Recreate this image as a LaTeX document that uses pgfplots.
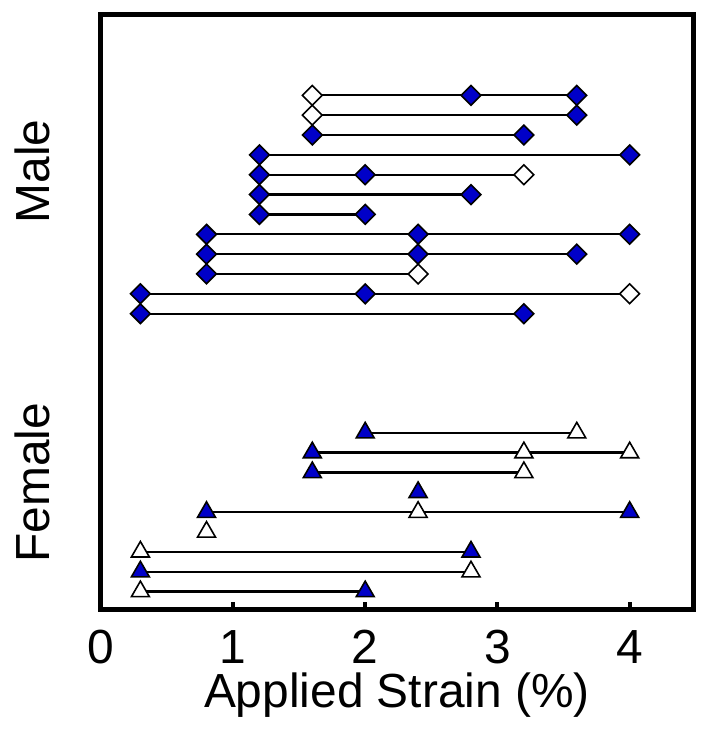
\documentclass[border=0pt]{standalone}
\usepackage{fontspec}
\setmainfont{Liberation Sans}
\usepackage{pgfplots}
\pgfplotsset{compat=1.18}
\definecolor{mblue}{RGB}{0,0,200}
\begin{document}
\fontsize{24}{28}\selectfont
\begin{tikzpicture}
\begin{axis}[
  scale only axis, width=297pt, height=298pt,
  xmin=0, xmax=4.48, ymin=0.1, ymax=30.05,
  axis line style={line width=2.5pt},
  xtick={0,1,2,3,4}, ytick=\empty,
  xtick pos=bottom, tick align=inside, major tick length=3.5pt,
  tick style={line width=2pt, black},
  tick label style={font=\fontsize{24}{28}\selectfont},
  /pgf/number format/assume math mode=true,
  xticklabel style={anchor=base, yshift=-27pt},
  xlabel={Applied Strain (\%)},
  xlabel style={at={(axis description cs:0.5,0)}, anchor=base, yshift=-49pt, font=\fontsize{24}{28}\selectfont},
  clip=false,
  unbounded coords=jump,
]
% invisible frame for proportions
\path ([xshift=-50.5pt,yshift=-61pt]rel axis cs:0,0) rectangle ([xshift=9.5pt,yshift=7.5pt]rel axis cs:1,1);
% connecting lines
\addplot[black, line width=1.1pt, no marks] coordinates {
 (1.6,26) (3.6,26) (nan,nan)
 (1.6,25) (3.6,25) (nan,nan)
 (1.6,24) (3.2,24) (nan,nan)
 (1.2,23) (4.0,23) (nan,nan)
 (1.2,22) (3.2,22) (nan,nan)
 (1.2,21) (2.8,21) (nan,nan)
 (1.2,20) (2.0,20) (nan,nan)
 (0.8,19) (4.0,19) (nan,nan)
 (0.8,18) (3.6,18) (nan,nan)
 (0.8,17) (2.4,17) (nan,nan)
 (0.3,16) (4.0,16) (nan,nan)
 (0.3,15) (3.2,15) (nan,nan)
 (2.0,9) (3.6,9) (nan,nan)
 (1.6,8) (4.0,8) (nan,nan)
 (1.6,7) (3.2,7) (nan,nan)
 (0.8,5) (4.0,5) (nan,nan)
 (0.3,3) (2.8,3) (nan,nan)
 (0.3,2) (2.8,2) (nan,nan)
 (0.3,1) (2.0,1)
};
% filled diamonds (male)
\addplot[only marks, mark=square*, mark size=3.5pt, mark options={rotate=45, fill=mblue, draw=black, line width=0.8pt}] coordinates {
 (2.8,26) (3.6,26) (3.6,25) (1.6,24) (3.2,24) (1.2,23) (4.0,23)
 (1.2,22) (2.0,22) (1.2,21) (2.8,21) (1.2,20) (2.0,20)
 (0.8,19) (2.4,19) (4.0,19) (0.8,18) (2.4,18) (3.6,18) (0.8,17)
 (0.3,16) (2.0,16) (0.3,15) (3.2,15)
};
% open diamonds (male)
\addplot[only marks, mark=square*, mark size=3.5pt, mark options={rotate=45, fill=white, draw=black, line width=0.8pt}] coordinates {
 (1.6,26) (1.6,25) (3.2,22) (2.4,17) (4.0,16)
};
% filled triangles (female)
\addplot[only marks, mark=triangle*, mark size=5.2pt, mark options={fill=mblue, draw=black, line width=0.8pt}] coordinates {
 (2.0,9) (1.6,8) (1.6,7) (2.4,6) (0.8,5) (4.0,5) (2.8,3) (0.3,2) (2.0,1)
};
% open triangles (female)
\addplot[only marks, mark=triangle*, mark size=5.2pt, mark options={fill=white, draw=black, line width=0.8pt}] coordinates {
 (3.6,9) (3.2,8) (4.0,8) (3.2,7) (2.4,5) (0.8,4) (0.3,3) (2.8,2) (0.3,1)
};
\node[rotate=90, anchor=base, inner sep=0pt] at ([xshift=-25.5pt]rel axis cs:0,0.737) {Male};
\node[rotate=90, anchor=base, inner sep=0pt] at ([xshift=-25.5pt]rel axis cs:0,0.213) {Female};
\end{axis}
\end{tikzpicture}
\end{document}
